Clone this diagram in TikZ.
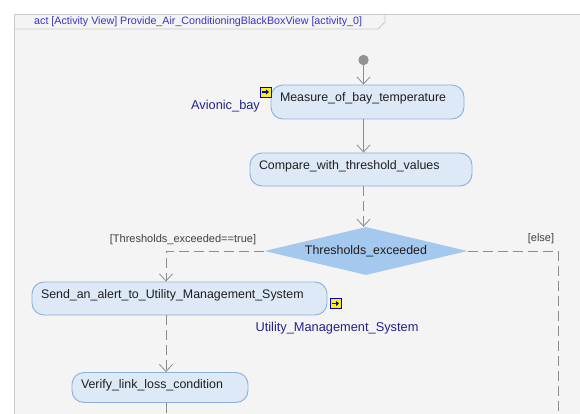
\documentclass[tikz,border=0pt]{standalone}
\usepackage{fontspec}
\setmainfont{Liberation Sans}
\usetikzlibrary{shapes.geometric,arrows.meta,calc}
\definecolor{framefill}{HTML}{F4F4F4}
\definecolor{frameline}{HTML}{CACACA}
\definecolor{boxfill}{HTML}{DDE9F6}
\definecolor{boxline}{HTML}{8CB0DC}
\definecolor{diafill}{HTML}{A5C8EE}
\definecolor{titleblue}{HTML}{3535C8}
\definecolor{pinlabel}{HTML}{22228C}
\definecolor{flowgray}{HTML}{8C8C8C}
\definecolor{textdark}{HTML}{1E1E1E}
\tikzset{
  actbox/.style={draw=boxline, fill=boxfill, line width=0.9pt, rounded corners=12pt,
    align=left, inner xsep=9pt, inner ysep=0pt, font=\fontsize{12.4}{14}\selectfont,
    text=textdark, anchor=center, text height=9pt, text depth=9pt},
  decbox/.style={shape=diamond, fill=diafill, draw=none, minimum width=203pt,
    minimum height=48pt, aspect=4.2, inner sep=0pt, font=\fontsize{12.4}{14}\selectfont,
    text=textdark},
  flow/.style={draw=flowgray, line width=0.9pt},
  flowdash/.style={flow, dash pattern=on 10pt off 5pt},
  arrowtip/.style={-{Straight Barb[length=7pt,width=13pt,line width=0.8pt]}},
  pinbox/.style={draw=blue!70!black, fill=yellow, line width=0.9pt,
    minimum width=11pt, minimum height=10pt, inner sep=0pt},
  pinname/.style={text=pinlabel, font=\fontsize{12.8}{14}\selectfont},
  guard/.style={text=textdark!85, font=\fontsize{11}{12}\selectfont},
}
\newcommand{\pinarrow}[1]{%
  \draw[blue!80!black, line width=1.6pt, -{Triangle[length=3pt,width=5pt]}]
    ($(#1.center)+(-3.5,0)$) -- ($(#1.center)+(3.5,0)$);}
\begin{document}
\begin{tikzpicture}[x=1pt,y=-1pt]
\useasboundingbox (0,0) rectangle (580,414);
\clip (0,0) rectangle (580,414);
\fill[white] (0,0) rectangle (580,414);
% frame
\draw[frameline, fill=framefill, line width=0.9pt] (14,14) rectangle (600,440);
\draw[frameline, line width=0.9pt] (14,29) -- (378,29) -- (385,22) -- (385,14);
\node[text=titleblue, font=\fontsize{10.7}{12}\selectfont, anchor=west, inner sep=0pt] (title) at (34,21.5)
  {act [Activity View] Provide\_Air\_ConditioningBlackBoxView [activity\_0]};
% nodes
\fill[gray!85] (363.5,60) circle (5.2);
\coordinate (init) at (363.5,60);
\node[actbox, minimum width=193pt, minimum height=34pt, text width=175pt] (meas) at (367.5,102)
  {Measure\_of\_bay\_temperature};
\node[actbox, minimum width=222pt, minimum height=33pt, text width=204pt] (cmp) at (361,169.5)
  {Compare\_with\_threshold\_values};
\node[decbox] (dec) at (366,251) {Thresholds\_exceeded};
\node[actbox, minimum width=295pt, minimum height=33pt, text width=277pt] (send) at (179.5,298.5)
  {Send\_an\_alert\_to\_Utility\_Management\_System};
\node[actbox, minimum width=176pt, minimum height=30pt, text width=158pt, text height=8pt, text depth=6pt] (ver) at (160,387.5)
  {Verify\_link\_loss\_condition};
% pins
\node[pinbox] (pin1) at (265.5,92) {};
\pinarrow{pin1}
\node[pinname] (pin1lbl) at (225.5,106.5) {Avionic\_bay};
\node[pinbox] (pin2) at (335.5,303.5) {};
\pinarrow{pin2}
\node[pinname] (pin2lbl) at (337,328) {Utility\_Management\_System};
% guards
\node[guard] (gtrue) at (183,240) {[Thresholds\_exceeded==true]};
\node[guard] (gelse) at (541,239) {[else]};
% connectors
\coordinate (lx) at (166,0);
\coordinate (rend) at (558,430);
\coordinate (vend) at (166,430);
\draw[flow, arrowtip] (init) -- (init |- meas.north);
\draw[flow, arrowtip] (init |- meas.south) -- (init |- cmp.north);
\draw[flowdash, arrowtip] (init |- cmp.south) -- (init |- dec.north);
\draw[flowdash, arrowtip] (dec.west) -| (lx |- send.north);
\draw[flowdash] (dec.east) -| (rend);
\draw[flowdash, arrowtip] (lx |- send.south) -- (lx |- ver.north);
\draw[flowdash] (lx |- ver.south) -- (vend);
\end{tikzpicture}
\end{document}
